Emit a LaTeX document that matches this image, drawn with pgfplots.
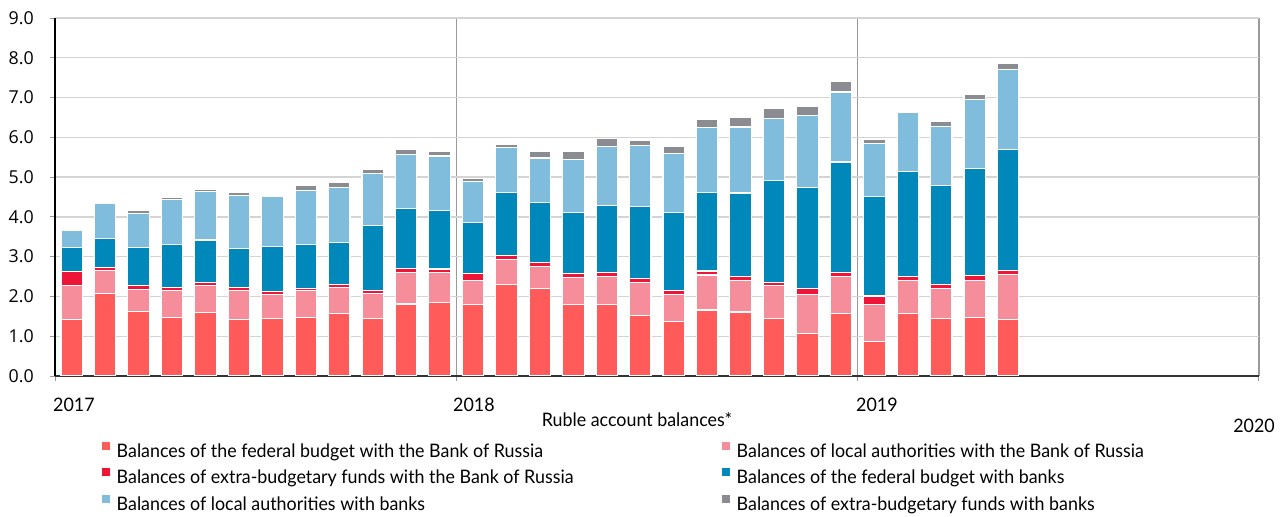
\documentclass[border=0pt]{standalone}
\usepackage{fontspec}
\setmainfont{Lato}[FakeStretch=0.96]
\newfontfamily\tickfont{Open Sans}
\usepackage{pgfplots}
\usepackage{pgfplotstable}
\pgfplotsset{compat=1.18}
\definecolor{c1}{HTML}{FF5B5B}
\definecolor{c2}{HTML}{F58D9A}
\definecolor{c3}{HTML}{EE1538}
\definecolor{c4}{HTML}{0088BA}
\definecolor{c5}{HTML}{80BDDC}
\definecolor{c6}{HTML}{8B8C91}
\definecolor{gridc}{HTML}{D4D4D4}
\definecolor{yearc}{HTML}{9A9A9A}
\pgfplotstableread{
x a b c d e f
0.5 1.41 0.87 0.34 0.60 0.45 0.00
1.5 2.08 0.57 0.07 0.73 0.88 0.00
2.5 1.62 0.56 0.09 0.96 0.86 0.08
3.5 1.47 0.67 0.09 1.08 1.13 0.05
4.5 1.60 0.68 0.07 1.07 1.21 0.06
5.5 1.43 0.72 0.07 0.98 1.34 0.07
6.5 1.45 0.59 0.08 1.14 1.25 0.00
7.5 1.47 0.68 0.05 1.11 1.35 0.14
8.5 1.56 0.67 0.06 1.07 1.39 0.12
9.5 1.44 0.64 0.08 1.62 1.30 0.12
10.5 1.81 0.79 0.11 1.49 1.37 0.13
11.5 1.85 0.75 0.09 1.48 1.36 0.12
12.5 1.80 0.59 0.19 1.28 1.02 0.09
13.5 2.31 0.63 0.08 1.59 1.13 0.07
14.5 2.19 0.56 0.11 1.50 1.12 0.16
15.5 1.79 0.69 0.10 1.52 1.35 0.20
16.5 1.79 0.71 0.10 1.68 1.48 0.21
17.5 1.51 0.83 0.11 1.80 1.55 0.13
18.5 1.38 0.66 0.12 1.94 1.49 0.19
19.5 1.66 0.88 0.10 1.97 1.63 0.22
20.5 1.61 0.78 0.11 2.10 1.66 0.25
21.5 1.45 0.82 0.09 2.55 1.57 0.24
22.5 1.06 1.00 0.14 2.55 1.79 0.24
23.5 1.57 0.94 0.09 2.78 1.76 0.26
24.5 0.86 0.94 0.21 2.51 1.33 0.10
25.5 1.57 0.84 0.09 2.63 1.49 0.00
26.5 1.45 0.75 0.10 2.50 1.48 0.13
27.5 1.47 0.94 0.12 2.69 1.74 0.12
28.5 1.43 1.12 0.11 3.04 2.01 0.15
}\data
\begin{document}
\begin{tikzpicture}
\useasboundingbox (0,0) rectangle (1288bp,517bp);
\begin{axis}[
  at={(55bp,141bp)}, anchor=south west,
  scale only axis, width=1204bp, height=358bp,
  ybar stacked, bar width=0.64,
  xmin=0, xmax=36, ymin=0, ymax=9,
  axis x line=bottom, axis y line=left,
  x axis line style={-, draw=black!80, line width=1.3bp},
  y axis line style={-, draw=black, line width=1.3bp},
  xtick={0,12,24,36}, xticklabels={},
  ytick={0,1,...,9},
  ymajorgrids, xmajorgrids,
  y grid style={draw=gridc, line width=1.3bp},
  x grid style={draw=yearc, line width=1.2bp},
  tick align=outside, major tick length=5bp,
  tick style={draw=yearc, line width=1bp},
  /pgf/number format/assume math mode=true,
  yticklabel style={font=\tickfont\fontsize{17.8bp}{20bp}\selectfont, anchor=east, inner sep=0pt, xshift=-16bp,
    /pgf/number format/.cd, fixed, fixed zerofill, precision=1},
  legend columns=2,
  legend cell align=left,
  legend style={at={(rel axis cs:0.0388,-0.1835)}, anchor=north west, draw=none, fill=none,
    inner sep=0pt, outer sep=0pt, row sep=6.8bp,
    font=\fontsize{18.6bp}{22bp}\selectfont,
    nodes={inner sep=0pt, text height=14bp, text depth=4bp},
    /tikz/every odd column/.append style={column sep=6.7bp},
    /tikz/every even column/.append style={column sep=0bp}},
  legend image code/.code={\fill[#1,draw=none] (0bp,2.4bp) rectangle (8.3bp,10.7bp);},
]
\addplot[fill=c1, draw=white, line width=1.1bp] table[x=x,y=a]{\data};
\addlegendentry{\makebox[605bp][l]{Balances of the federal budget with the Bank of Russia}}
\addplot[fill=c2, draw=white, line width=1.1bp] table[x=x,y=b]{\data};
\addlegendentry{Balances of local authorities with the Bank of Russia}
\addplot[fill=c3, draw=white, line width=1.1bp] table[x=x,y=c]{\data};
\addlegendentry{\makebox[605bp][l]{Balances of extra-budgetary funds with the Bank of Russia}}
\addplot[fill=c4, draw=white, line width=1.1bp] table[x=x,y=d]{\data};
\addlegendentry{Balances of the federal budget with banks}
\addplot[fill=c5, draw=white, line width=1.1bp] table[x=x,y=e]{\data};
\addlegendentry{\makebox[605bp][l]{Balances of local authorities with banks}}
\addplot[fill=c6, draw=white, line width=1.1bp] table[x=x,y=f]{\data};
\addlegendentry{Balances of extra-budgetary funds with banks}
\end{axis}
\begin{scope}[every node/.style={inner sep=0pt, font=\fontsize{18.6bp}{22bp}\selectfont}]
\node[anchor=base west] at (53bp,105bp) {2017};
\node[anchor=base west] at (453bp,105bp) {2018};
\node[anchor=base west] at (856bp,105bp) {2019};
\node[anchor=base east] at (1275bp,84bp) {2020};
\node[anchor=base] at (637bp,90.3bp) {Ruble account balances*};
\end{scope}
\end{tikzpicture}
\end{document}
